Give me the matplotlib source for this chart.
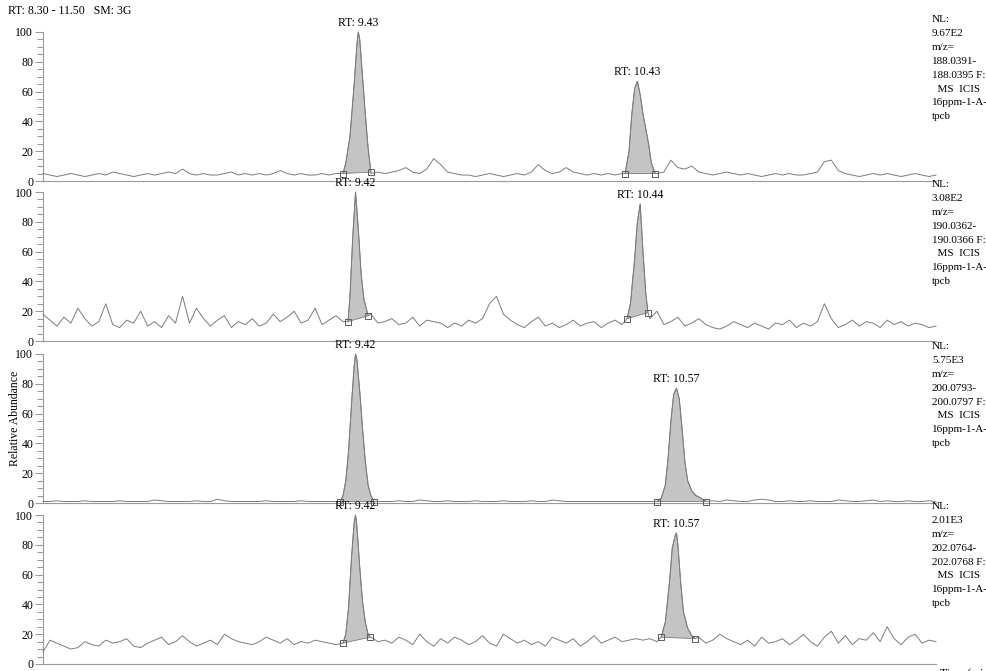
import numpy as np
import matplotlib
import matplotlib.pyplot as plt
from matplotlib.ticker import MultipleLocator

matplotlib.use('Agg')
plt.rcParams['font.family'] = ['Liberation Serif', 'DejaVu Serif']
plt.rcParams['font.size'] = 8.5

# time axis of the scans
t_start, t_end, t_step = 8.30, 11.50, 0.025

# background trace of each channel, one value per scan step
noise_1 = [5, 4, 3, 4, 5, 4, 3, 4, 5, 4,
           6, 5, 4, 3, 4, 5, 4, 5, 6, 5,
           8, 5, 4, 5, 4, 4, 5, 6, 4, 5,
           4, 5, 4, 5, 7, 5, 4, 5, 4, 4,
           5, 4, 5, 5, 5, 5, 5, 5, 6, 5,
           6, 7, 9, 6, 5, 8, 15, 11, 6, 5,
           4, 4, 3, 4, 5, 4, 3, 4, 5, 4,
           6, 11, 7, 5, 6, 9, 6, 5, 4, 5,
           4, 5, 4, 5, 5, 5, 5, 5, 5, 6,
           14, 9, 8, 10, 6, 5, 4, 5, 6, 5,
           4, 5, 4, 3, 4, 5, 4, 5, 4, 4,
           5, 6, 13, 14, 7, 5, 4, 3, 4, 5,
           4, 5, 4, 3, 4, 5, 4, 3, 4]
noise_2 = [18, 14, 10, 16, 12, 22, 15, 10, 13, 25,
           11, 9, 14, 12, 20, 10, 13, 9, 17, 12,
           30, 12, 22, 15, 10, 14, 17, 9, 13, 11,
           15, 10, 12, 18, 13, 16, 20, 12, 14, 22,
           11, 14, 17, 13, 16, 13, 15, 18, 12, 13,
           15, 11, 12, 16, 10, 14, 13, 12, 9, 12,
           10, 14, 12, 15, 25, 30, 18, 14, 11, 9,
           13, 16, 10, 12, 9, 11, 14, 10, 12, 13,
           9, 12, 14, 11, 15, 16, 18, 15, 20, 11,
           13, 16, 10, 12, 15, 11, 9, 8, 10, 13,
           11, 9, 12, 10, 8, 12, 11, 14, 9, 12,
           10, 13, 25, 15, 9, 11, 14, 10, 13, 12,
           9, 14, 11, 13, 10, 12, 11, 9, 10]
noise_3 = [1, 1, 1.5, 1, 1, 1, 1.5, 1, 1, 1,
           1, 1.5, 1, 1, 1, 1, 2, 1.5, 1, 1,
           1, 1, 1.5, 1, 1, 2.5, 1.5, 1, 1, 1,
           1, 1, 1.5, 1, 1, 1, 1, 1.5, 1, 1,
           1, 1, 1, 1, 1, 1, 1, 1, 1, 1,
           1, 1.5, 1, 1, 2, 1.5, 1, 1, 1.5, 1,
           1, 1, 1.5, 1, 1, 1, 1.5, 1, 1, 1,
           1.5, 1, 1, 2, 1.5, 1, 1, 1, 1, 1,
           1, 1, 1, 1, 1, 1, 1, 1, 1, 1,
           1, 1, 1, 1, 1, 1, 1.5, 1, 2, 1.5,
           1, 1, 2, 2.5, 2, 1, 1, 1.5, 1, 1,
           1.5, 1, 1, 1, 2, 1.5, 1, 1, 1.5, 2,
           1, 1.5, 1, 1, 1.5, 1, 1, 1.5, 1]
noise_4 = [8, 16, 14, 12, 10, 11, 15, 13, 12, 16,
           14, 15, 17, 12, 11, 14, 16, 18, 13, 15,
           19, 15, 12, 14, 16, 13, 20, 17, 15, 14,
           13, 15, 18, 16, 14, 17, 13, 15, 14, 16,
           15, 14, 13, 14, 16, 15, 17, 18, 15, 16,
           14, 18, 16, 13, 20, 15, 12, 17, 14, 18,
           16, 13, 15, 19, 14, 12, 20, 17, 14, 16,
           13, 15, 12, 18, 16, 14, 17, 12, 15, 19,
           14, 16, 18, 15, 16, 17, 16, 17, 15, 16,
           13, 17, 15, 12, 18, 14, 16, 20, 17, 15,
           13, 16, 12, 18, 14, 15, 17, 13, 16, 20,
           15, 12, 18, 22, 14, 19, 13, 17, 16, 21,
           15, 25, 17, 13, 18, 20, 14, 16, 15]

# integrated peaks: scan times and intensities from start to end marker
peak_1a_t = [9.375, 9.385, 9.40, 9.415, 9.425, 9.43, 9.435, 9.445, 9.455, 9.465, 9.475]
peak_1a_y = [5, 12, 30, 65, 92, 100, 95, 70, 45, 22, 6]
peak_1b_t = [10.386, 10.40, 10.41, 10.42, 10.43, 10.44, 10.45, 10.46, 10.47, 10.48, 10.494]
peak_1b_y = [5, 20, 45, 62, 67, 58, 45, 35, 25, 12, 5]
peak_2a_t = [9.393, 9.40, 9.41, 9.42, 9.43, 9.44, 9.45, 9.465]
peak_2a_y = [13, 30, 70, 100, 75, 45, 28, 17]
peak_2b_t = [10.393, 10.405, 10.42, 10.43, 10.44, 10.45, 10.46, 10.468]
peak_2b_y = [15, 25, 55, 80, 92, 60, 32, 19]
peak_3a_t = [9.365, 9.375, 9.385, 9.395, 9.405, 9.415, 9.42, 9.425, 9.435, 9.445,
             9.455, 9.465, 9.475, 9.486]
peak_3a_y = [1, 5, 15, 35, 65, 92, 100, 96, 75, 50, 28, 12, 5, 1]
peak_3b_t = [10.50, 10.515, 10.53, 10.54, 10.55, 10.56, 10.57, 10.58, 10.59, 10.60,
             10.61, 10.625, 10.64, 10.66, 10.676]
peak_3b_y = [1, 3, 12, 30, 55, 73, 77, 70, 50, 28, 15, 8, 5, 3, 1]
peak_4a_t = [9.375, 9.385, 9.395, 9.405, 9.415, 9.42, 9.425, 9.435, 9.445, 9.455,
             9.465, 9.472]
peak_4a_y = [14, 20, 38, 70, 95, 100, 92, 65, 42, 28, 20, 18]
peak_4b_t = [10.515, 10.53, 10.545, 10.555, 10.565, 10.57, 10.575, 10.585, 10.595,
             10.61, 10.625, 10.637]
peak_4b_y = [18, 28, 55, 78, 86, 88, 80, 55, 35, 24, 19, 17]

rt_labels = [["9.43", "10.43"], ["9.42", "10.44"], ["9.42", "10.57"], ["9.42", "10.57"]]

nl_values = ["9.67E2", "3.08E2", "5.75E3", "2.01E3"]
mz_ranges = [("188.0391", "188.0395"), ("190.0362", "190.0366"),
             ("200.0793", "200.0797"), ("202.0764", "202.0768")]

noise = [noise_1, noise_2, noise_3, noise_4]
peaks = [[(peak_1a_t, peak_1a_y), (peak_1b_t, peak_1b_y)],
         [(peak_2a_t, peak_2a_y), (peak_2b_t, peak_2b_y)],
         [(peak_3a_t, peak_3a_y), (peak_3b_t, peak_3b_y)],
         [(peak_4a_t, peak_4a_y), (peak_4b_t, peak_4b_y)]]

W, H = 987, 671
fig = plt.figure(figsize=(W / 100, H / 100), dpi=100)

line_c = '#7c7c7c'
axis_c = '#9a9a9a'
panel_tops = [32, 192, 354, 515]
nl_tops = [15, 180, 342, 502]
panel_h = 149
ax_left, ax_right = 43, 936

for k in range(4):
    top = panel_tops[k]
    ax = fig.add_axes([ax_left / W, 1 - (top + panel_h) / H,
                       (ax_right - ax_left) / W, panel_h / H])
    ax.patch.set_alpha(0)

    # background scans outside the peaks, then the peak scans
    base_t = t_start + t_step * np.arange(len(noise[k]))
    base_y = np.array(noise[k], dtype=float)
    keep = np.ones(len(base_t), dtype=bool)
    for pt, py in peaks[k]:
        keep &= ~((base_t >= pt[0]) & (base_t <= pt[-1]))
    all_t = list(base_t[keep])
    all_y = list(base_y[keep])
    for pt, py in peaks[k]:
        all_t += pt
        all_y += py
    order = np.argsort(all_t)
    ax.plot(np.array(all_t)[order], np.array(all_y)[order], color=line_c, lw=0.7,
            clip_on=False, zorder=3)

    for (pt, py), rt in zip(peaks[k], rt_labels[k]):
        poly_t = list(pt) + [pt[-1], pt[0]]
        poly_y = list(py) + [py[-1], py[0]]
        ax.fill(poly_t, poly_y, facecolor='#c4c4c4', edgecolor='#7a7a7a', lw=0.6,
                zorder=2, clip_on=False)
        ax.plot([pt[0], pt[-1]], [py[0], py[-1]], 's', ms=5, mfc='none',
                mec='#5a5a5a', mew=0.7, zorder=4, clip_on=False)
        ax.annotate('RT: ' + rt, (float(rt), max(py)), xytext=(0, 2),
                    textcoords='offset points', ha='center', va='bottom',
                    fontsize=8.5, annotation_clip=False)

    ax.set_xlim(t_start, t_end)
    ax.set_ylim(0, 100)
    ax.yaxis.set_major_locator(MultipleLocator(20))
    ax.yaxis.set_minor_locator(MultipleLocator(5))
    for side in ['top', 'right']:
        ax.spines[side].set_visible(False)
    for side in ['left', 'bottom']:
        ax.spines[side].set_color(axis_c)
        ax.spines[side].set_linewidth(0.8)
    ax.tick_params(axis='y', which='major', length=6, width=0.8, color=axis_c,
                   labelsize=8.5, pad=1)
    ax.tick_params(axis='y', which='minor', length=4, width=0.8, color=axis_c)
    if k < 3:
        ax.set_xticks([])
    else:
        ax.set_xticks([8.34, 8.84])
        ax.set_xticklabels(['8.34', '8.84'])
        ax.tick_params(axis='x', length=0, labelsize=8.5, pad=5)

    # channel description on the right
    desc = ("NL:\n" + nl_values[k] + "\nm/z=\n" + mz_ranges[k][0] + "-\n"
            + mz_ranges[k][1] + " F:\n  MS  ICIS\n16ppm-1-A-\ntpcb")
    fig.text(932 / W, 1 - nl_tops[k] / H, desc, ha='left', va='top',
             fontsize=8, linespacing=1.7)

fig.text(8 / W, 1 - 11 / H, "RT: 8.30 - 11.50   SM: 3G", ha='left', va='center',
         fontsize=8.5)
fig.text(15 / W, 1 - 418 / H, "Relative Abundance", rotation=90, ha='center',
         va='center', fontsize=8.5)
fig.text(940 / W, 1 - 668 / H, "Time (min)", ha='left', va='top', fontsize=8.5)

fig.savefig('out.png', dpi=100)
